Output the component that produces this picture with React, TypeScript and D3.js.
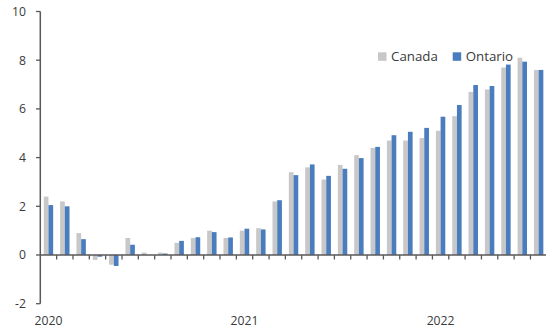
import React from "react";
import * as d3 from "d3";

// Monthly year-over-year CPI change, Jan 2020 – Jul 2022 (%)
const months: string[] = [
  "2020-01", "2020-02", "2020-03", "2020-04", "2020-05", "2020-06",
  "2020-07", "2020-08", "2020-09", "2020-10", "2020-11", "2020-12",
  "2021-01", "2021-02", "2021-03", "2021-04", "2021-05", "2021-06",
  "2021-07", "2021-08", "2021-09", "2021-10", "2021-11", "2021-12",
  "2022-01", "2022-02", "2022-03", "2022-04", "2022-05", "2022-06",
  "2022-07",
];

const canada: number[] = [
  2.4, 2.2, 0.9, -0.2, -0.4, 0.7, 0.1, 0.1, 0.5, 0.7, 1.0, 0.7,
  1.0, 1.1, 2.2, 3.4, 3.6, 3.1, 3.7, 4.1, 4.4, 4.7, 4.7, 4.8,
  5.1, 5.7, 6.7, 6.8, 7.7, 8.1, 7.6,
];

const ontario: number[] = [
  2.05, 2.0, 0.65, -0.07, -0.45, 0.42, 0.0, 0.06, 0.58, 0.73, 0.94, 0.72,
  1.08, 1.05, 2.25, 3.28, 3.72, 3.25, 3.54, 3.98, 4.44, 4.92, 5.06, 5.22,
  5.68, 6.16, 6.98, 6.94, 7.82, 7.94, 7.6,
];

const yTicks: number[] = [-2, 0, 2, 4, 6, 8, 10];
const yearLabels: { month: string; label: string }[] = [
  { month: "2020-01", label: "2020" },
  { month: "2021-01", label: "2021" },
  { month: "2022-01", label: "2022" },
];

const seriesNames = ["Canada", "Ontario"];
const colors = ["#C8C8C8", "#4A7DBE"];

const W = 546;
const H = 328;
const FONT = "'Open Sans', sans-serif";
const AXIS = "#595959";
const TEXT = "#3a3a3a";

export default function App() {
  const x = d3.scaleBand<string>().domain(months).range([40.3, 546.8]).padding(0);
  const y = d3.scaleLinear().domain([-2, 10]).range([303.7, 11.5]);
  const barW = 4.7;
  const bw = x.bandwidth();
  const series = [canada, ontario];
  const y0 = y(0);

  return (
    <svg
      width={W}
      height={H}
      style={{ position: "absolute", left: 0, top: 0, background: "#fff" }}
      fontFamily={FONT}
    >
      {/* bars */}
      {months.map((m, i) => {
        const cx = (x(m) as number) + bw / 2;
        return series.map((s, j) => {
          const v = s[i];
          const top = Math.min(y(v), y0);
          const h = Math.abs(y(v) - y0);
          if (h < 0.01) return null;
          return (
            <rect
              key={`${m}-${j}`}
              x={cx - barW + j * barW}
              y={top}
              width={barW}
              height={h}
              fill={colors[j]}
            />
          );
        });
      })}

      {/* x axis at zero */}
      <line x1={40.3} x2={W} y1={y0} y2={y0} stroke={AXIS} strokeWidth={1.5} />
      {months.map((m, i) => {
        const xx = (x(m) as number) + bw;
        return (
          <line key={`xt-${i}`} x1={xx} x2={xx} y1={y0} y2={y0 + 4.5} stroke={AXIS} strokeWidth={1.3} />
        );
      })}

      {/* y axis */}
      <line x1={40.3} x2={40.3} y1={y(10)} y2={y(-2)} stroke={AXIS} strokeWidth={1.5} />
      {yTicks.map((t) => (
        <g key={`yt-${t}`}>
          <line x1={36} x2={40.3} y1={y(t)} y2={y(t)} stroke={AXIS} strokeWidth={1.3} />
          <text
            x={26}
            y={y(t)}
            dy="0.36em"
            textAnchor="end"
            fontSize={12.2}
            fill={TEXT}
          >
            {t}
          </text>
        </g>
      ))}

      {/* year labels */}
      {yearLabels.map((d) => (
        <text
          key={d.label}
          x={(x(d.month) as number) + bw / 2}
          y={324.5}
          textAnchor="middle"
          fontSize={12.2}
          fill={TEXT}
        >
          {d.label}
        </text>
      ))}

      {/* legend */}
      {seriesNames.map((name, j) => {
        const lx = j === 0 ? 378 : 452.7;
        return (
          <g key={name}>
            <rect x={lx} y={52.3} width={8.5} height={8.5} fill={colors[j]} />
            <text x={lx + 13} y={61.3} fontSize={13.3} fill={TEXT}>
              {name}
            </text>
          </g>
        );
      })}
    </svg>
  );
}
